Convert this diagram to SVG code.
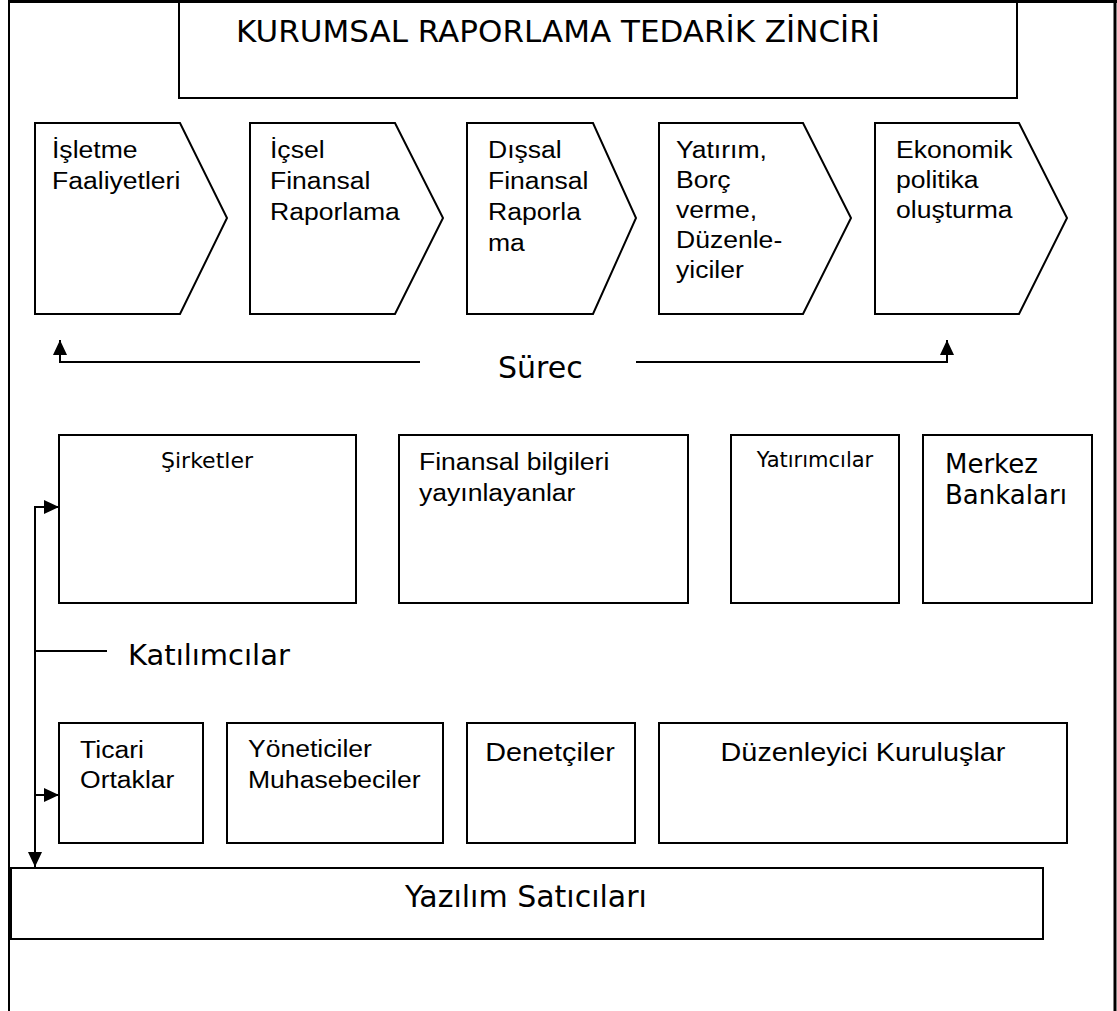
<svg xmlns="http://www.w3.org/2000/svg" width="1117" height="1011" viewBox="0 0 1117 1011">
<style>
.bg{fill:#fff}
.frame{fill:none;stroke:#000;stroke-width:2}
.box{fill:#fff;stroke:#000;stroke-width:2}
.ln{fill:none;stroke:#000;stroke-width:2}
.v{font-family:"DejaVu Sans",Verdana,sans-serif;fill:#000}
.a{font-family:"Liberation Sans",Arial,sans-serif;font-size:23.5px;fill:#000}
.a2{font-family:"Liberation Sans",Arial,sans-serif;font-size:25.5px;fill:#000}
</style>
<defs>
<marker id="ah" viewBox="0 0 15 14" refX="15" refY="7" markerWidth="15" markerHeight="14" markerUnits="userSpaceOnUse" orient="auto">
<path d="M0,0 L15,7 L0,14 z" fill="#000"/>
</marker>
</defs>
<rect class="bg" x="0" y="0" width="1117" height="1011"/>
<g id="frame">
<line class="frame" x1="9" y1="0" x2="9" y2="1011"/>
<line class="frame" x1="1115" y1="0" x2="1115" y2="1011" style="stroke-width:3"/>
<line class="frame" x1="8" y1="1.5" x2="1117" y2="1.5" style="stroke-width:3"/>
</g>
<g id="title">
<rect class="box" x="179" y="2" width="838" height="96"/>
<text class="v" x="558" y="42" font-size="31" text-anchor="middle">KURUMSAL RAPORLAMA TEDARİK ZİNCİRİ</text>
</g>
<g id="p1">
<polygon class="box" points="35,123 180,123 227,218 180,314 35,314"/>
<text class="a" transform="translate(52 158) scale(1.13 1)"><tspan x="0" dy="0">İşletme</tspan><tspan x="0" dy="31">Faaliyetleri</tspan></text>
</g>
<g id="p2">
<polygon class="box" points="250,123 395,123 443,218 395,314 250,314"/>
<text class="a" transform="translate(270 158) scale(1.13 1)"><tspan x="0" dy="0">İçsel</tspan><tspan x="0" dy="31">Finansal</tspan><tspan x="0" dy="31">Raporlama</tspan></text>
</g>
<g id="p3">
<polygon class="box" points="467,123 593,123 636,218 593,314 467,314"/>
<text class="a" transform="translate(488 158) scale(1.13 1)"><tspan x="0" dy="0">Dışsal</tspan><tspan x="0" dy="31">Finansal</tspan><tspan x="0" dy="31">Raporla</tspan><tspan x="0" dy="31">ma</tspan></text>
</g>
<g id="p4">
<polygon class="box" points="659,123 803,123 851,218 803,314 659,314"/>
<text class="a" transform="translate(676 158) scale(1.13 1)"><tspan x="0" dy="0">Yatırım,</tspan><tspan x="0" dy="30">Borç</tspan><tspan x="0" dy="30">verme,</tspan><tspan x="0" dy="30">Düzenle-</tspan><tspan x="0" dy="30">yiciler</tspan></text>
</g>
<g id="p5">
<polygon class="box" points="875,123 1019,123 1067,218 1019,314 875,314"/>
<text class="a" transform="translate(896 158) scale(1.13 1)"><tspan x="0" dy="0">Ekonomik</tspan><tspan x="0" dy="30">politika</tspan><tspan x="0" dy="30">oluşturma</tspan></text>
</g>
<g id="surec-label">
<text class="v" x="498" y="378" font-size="30">Sürec</text>
</g>
<g id="sirketler">
<rect class="box" x="59" y="435" width="297" height="168"/>
<text class="v" x="207" y="468" font-size="22" text-anchor="middle">Şirketler</text>
</g>
<g id="finansal">
<rect class="box" x="399" y="435" width="289" height="168"/>
<text class="a" transform="translate(419 470) scale(1.13 1)"><tspan x="0" dy="0">Finansal bilgileri</tspan><tspan x="0" dy="31">yayınlayanlar</tspan></text>
</g>
<g id="yatirimcilar">
<rect class="box" x="731" y="435" width="168" height="168"/>
<text class="v" x="815" y="467" font-size="21" text-anchor="middle">Yatırımcılar</text>
</g>
<g id="merkez">
<rect class="box" x="923" y="435" width="169" height="168"/>
<text class="v" x="945" y="473" font-size="26"><tspan x="945" dy="0">Merkez</tspan><tspan x="945" dy="31">Bankaları</tspan></text>
</g>
<g id="katilimcilar-label">
<text class="v" x="128" y="665" font-size="29">Katılımcılar</text>
</g>
<g id="ticari">
<rect class="box" x="59" y="723" width="144" height="120"/>
<text class="a" transform="translate(80 758) scale(1.13 1)"><tspan x="0" dy="0">Ticari</tspan><tspan x="0" dy="30">Ortaklar</tspan></text>
</g>
<g id="yoneticiler">
<rect class="box" x="227" y="723" width="216" height="120"/>
<text class="a" transform="translate(248 757) scale(1.13 1)"><tspan x="0" dy="0">Yöneticiler</tspan><tspan x="0" dy="31">Muhasebeciler</tspan></text>
</g>
<g id="denetciler">
<rect class="box" x="467" y="723" width="168" height="120"/>
<text class="a2" transform="translate(550 761) scale(1.13 1)" text-anchor="middle">Denetçiler</text>
</g>
<g id="duzenleyici">
<rect class="box" x="659" y="723" width="408" height="120"/>
<text class="a2" transform="translate(863 761) scale(1.13 1)" text-anchor="middle">Düzenleyici Kuruluşlar</text>
</g>
<g id="yazilim">
<rect class="box" x="11" y="868" width="1032" height="71"/>
<text class="v" x="526" y="907" font-size="30" text-anchor="middle">Yazılım Satıcıları</text>
</g>
<g id="connectors">
<polyline class="ln" points="420,362 60,362 60,340" marker-end="url(#ah)"/>
<polyline class="ln" points="636,362 947,362 947,340" marker-end="url(#ah)"/>
<line class="ln" x1="35" y1="506" x2="35" y2="867" marker-end="url(#ah)"/>
<line class="ln" x1="34" y1="507" x2="59" y2="507" marker-end="url(#ah)"/>
<line class="ln" x1="34" y1="795" x2="59" y2="795" marker-end="url(#ah)"/>
<line class="ln" x1="35" y1="651" x2="107" y2="651"/>
</g>
</svg>
